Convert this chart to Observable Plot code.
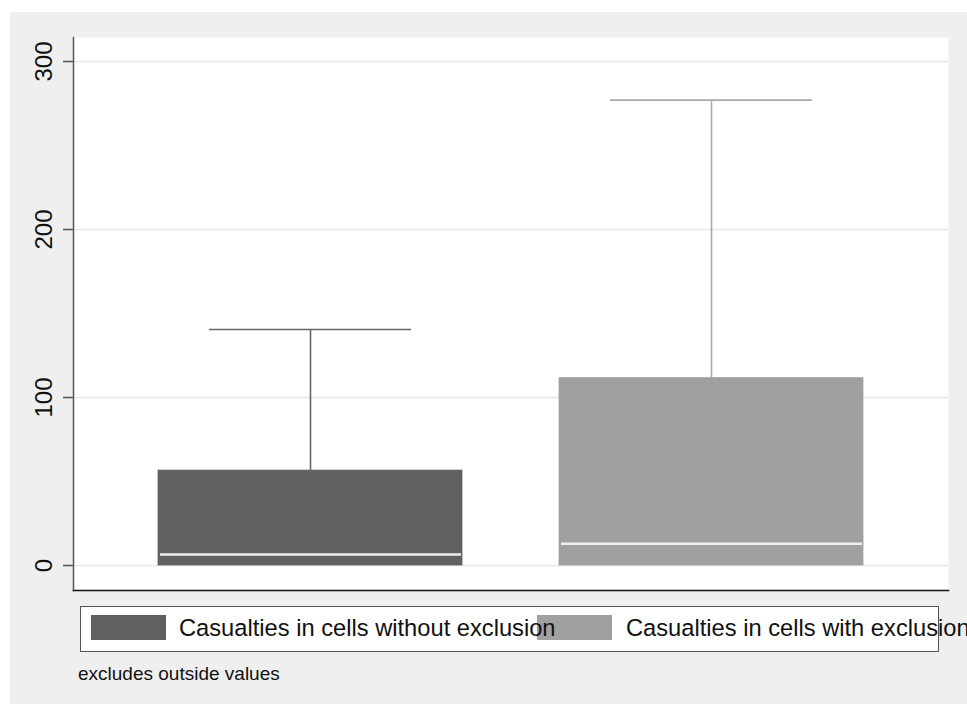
<!DOCTYPE html>
<html>
<head>
<meta charset="utf-8">
<script src="https://cdn.jsdelivr.net/npm/d3@7"></script>
<script src="https://cdn.jsdelivr.net/npm/@observablehq/plot@0.6"></script>
<style>
  html, body { margin: 0; padding: 0; background: #ffffff; overflow: hidden; width: 967px; height: 704px; }
  #wrap { position: absolute; left: 10px; top: 12px; width: 957px; height: 692px; background: #efefef; font-family: "Liberation Sans", Arial, Helvetica, sans-serif; }
  #chart { position: absolute; left: 0; top: 0; }
  #legend { position: absolute; left: 70px; top: 594px; width: 857px; height: 44px; background: #fff; border: 1.5px solid #555; }
  .sw { position: absolute; top: 8px; width: 75px; height: 25px; z-index: 1; }
  .lt { position: absolute; top: 7px; font-size: 23.7px; color: #111; white-space: nowrap; line-height: 28px; z-index: 2; }
  #caption { position: absolute; left: 68px; top: 651px; font-size: 19px; color: #111; white-space: nowrap; }
</style>
</head>
<body>
<div id="wrap">
  <div id="chart"></div>
  <div id="legend"></div>
  <div id="caption"></div>
</div>
<script>
// ---- Data ----
const groups = ["Casualties in cells without exclusion", "Casualties in cells with exclusion"];
const lowerQuartiles = [0, 0];
const medians = [6.5, 13];
const upperQuartiles = [56.5, 111.5];
const upperWhiskers = [140.5, 277];
const boxColors = ["#606060", "#a0a0a0"];
const whiskerColors = ["#666666", "#aaaaaa"];
const yTicks = [0, 100, 200, 300];
const captionText = "excludes outside values";

const rows = groups.map((g, i) => ({
  group: g,
  q1: lowerQuartiles[i],
  med: medians[i],
  q3: upperQuartiles[i],
  hi: upperWhiskers[i],
  fill: boxColors[i],
  wstroke: whiskerColors[i]
}));

const plot = Plot.plot({
  width: 957,
  height: 590,
  marginTop: 25,
  marginBottom: 12,
  marginLeft: 63,
  marginRight: 19,
  style: { background: "transparent", fontFamily: "Liberation Sans, Arial, sans-serif" },
  x: { type: "band", domain: groups, paddingInner: 0.242, paddingOuter: 0.21, axis: null },
  y: { domain: [-14.88, 314.29], axis: null },
  marks: [
    Plot.frame({ fill: "white", stroke: null }),
    Plot.gridY(yTicks, { stroke: "#e6e6e6", strokeOpacity: 1, strokeWidth: 1.5 }),
    // whiskers
    Plot.ruleX(rows, { x: "group", y1: "q3", y2: "hi", stroke: "wstroke", strokeWidth: 1.6 }),
    Plot.tickY(rows, { x: "group", y: "hi", stroke: "wstroke", strokeWidth: 1.6, insetLeft: 51, insetRight: 51 }),
    // boxes
    Plot.barY(rows, { x: "group", y1: "q1", y2: "q3", fill: "fill", stroke: "fill", strokeWidth: 0.8, inset: 0 }),
    // medians
    Plot.tickY(rows, { x: "group", y: "med", stroke: "#eeeeee", strokeWidth: 2.5, insetLeft: 2, insetRight: 1 }),
    // y axis ticks and labels
    Plot.axisY(yTicks, { tickSize: 10, tickFormat: () => "", stroke: "#555", strokeWidth: 1.5 }),
    Plot.text(yTicks, { y: d => d, text: d => String(d), frameAnchor: "left", dx: -29, rotate: -90, fontSize: 24, fill: "#111", textAnchor: "middle" }),
    // axis lines
    Plot.frame({ anchor: "left", stroke: "#555", strokeWidth: 1.5 }),
    Plot.frame({ anchor: "bottom", stroke: "#111", strokeWidth: 1.5 })
  ]
});
document.getElementById("chart").appendChild(plot);

// legend
const legend = document.getElementById("legend");
const swLeft = [10, 456];
const txtLeft = [98, 545];
groups.forEach((g, i) => {
  const sw = document.createElement("div");
  sw.className = "sw";
  sw.style.left = swLeft[i] + "px";
  sw.style.background = boxColors[i];
  legend.appendChild(sw);
  const t = document.createElement("div");
  t.className = "lt";
  t.style.left = txtLeft[i] + "px";
  t.textContent = g;
  legend.appendChild(t);
});
document.getElementById("caption").textContent = captionText;
</script>
</body>
</html>
